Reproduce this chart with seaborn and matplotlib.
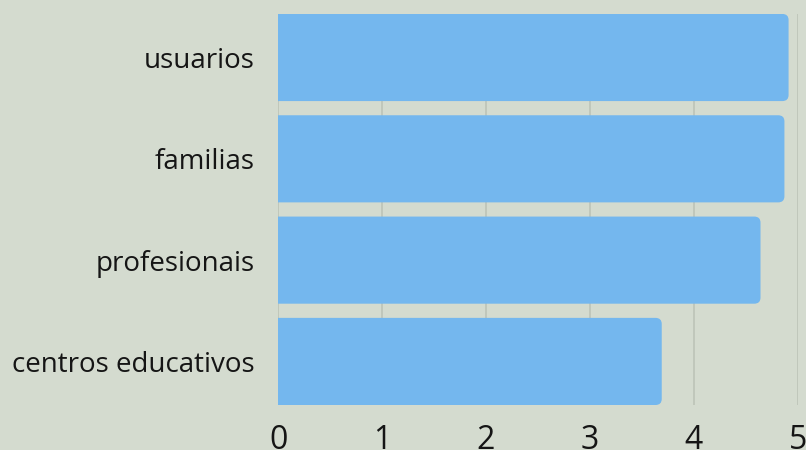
import seaborn as sns
import pandas as pd
import matplotlib.pyplot as plt
from matplotlib.patches import FancyBboxPatch

BG_COLOR = '#d4dbcf'
BAR_COLOR = '#74b7ee'
GRID_COLOR = '#bcc3b7'

categorias = ['usuarios', 'familias', 'profesionais', 'centros educativos']
valores = [4.91, 4.87, 4.64, 3.69]
x_ticks = [0, 1, 2, 3, 4, 5]


def plot_chart():
    df = pd.DataFrame({'categoria': categorias, 'valor': valores})

    sns.set_theme(style='white')
    plt.rcParams['font.family'] = ['Open Sans', 'DejaVu Sans']

    fig = plt.figure(figsize=(8.06, 4.5), dpi=100)
    fig.patch.set_facecolor(BG_COLOR)
    ax = fig.add_axes([0.345, 0.1, 0.645, 0.869])
    ax.set_facecolor(BG_COLOR)

    sns.barplot(data=df, x='valor', y='categoria', orient='h', color=BAR_COLOR,
                saturation=1, width=0.86, ax=ax)

    # rounded bar ends (left edge hidden behind the axis clip)
    for patch in list(ax.patches):
        x0, y0 = patch.get_x(), patch.get_y()
        w, h = patch.get_width(), patch.get_height()
        patch.set_visible(False)
        rounded = FancyBboxPatch((x0 - 0.1, y0), w + 0.1, h,
                                 boxstyle='round,pad=0,rounding_size=0.06',
                                 facecolor=BAR_COLOR, edgecolor='none',
                                 mutation_aspect=1.0, zorder=2)
        ax.add_patch(rounded)

    ax.set_xlim(0, 5)
    ax.set_ylim(3.43, -0.43)
    ax.set_xticks(x_ticks)
    ax.xaxis.grid(True, color=GRID_COLOR, linewidth=1.2, zorder=0)
    ax.set_axisbelow(True)
    for side in ['top', 'right', 'bottom', 'left']:
        ax.spines[side].set_visible(False)

    ax.set_xlabel('')
    ax.set_ylabel('')
    ax.tick_params(axis='x', length=0, pad=14, labelsize=23, labelcolor='#151515')
    ax.tick_params(axis='y', length=0, pad=17, labelsize=20, labelcolor='#151515')

    fig.savefig('out.png', dpi=100, facecolor=BG_COLOR)
    plt.close('all')


if __name__ == '__main__':
    plot_chart()
